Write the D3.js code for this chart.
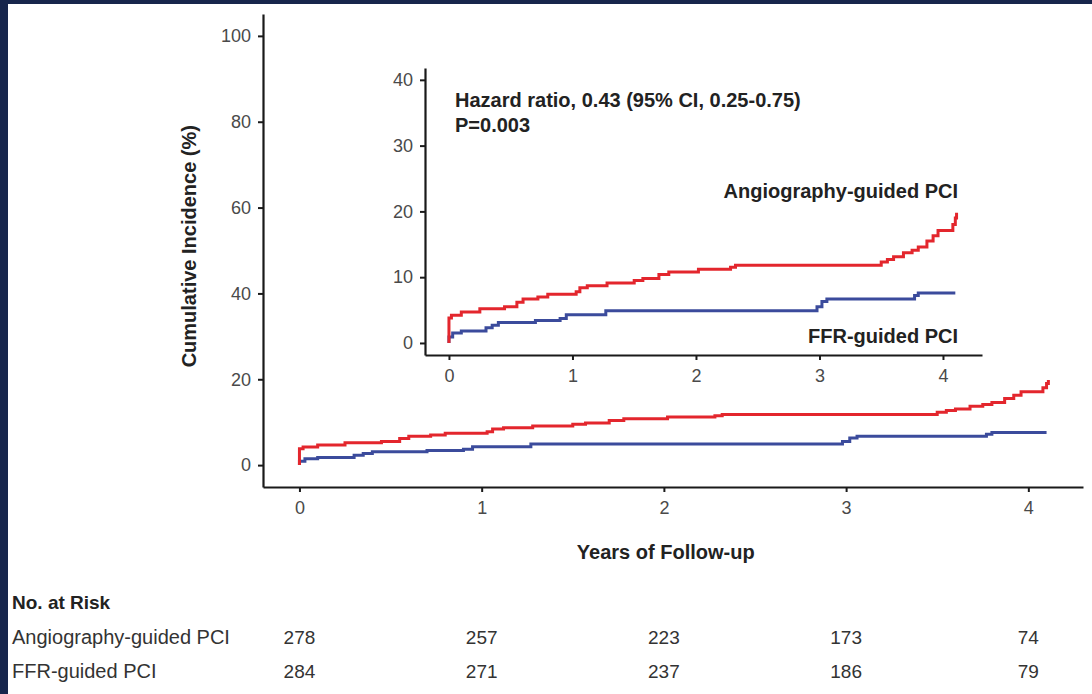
<!DOCTYPE html>
<html>
<head>
<meta charset="utf-8">
<script src="https://cdn.jsdelivr.net/npm/d3@7"></script>
<style>
  body { margin: 0; background: #17264c; }
  svg { display: block; }
  .tick text { font-family: "Liberation Sans", Arial, sans-serif; fill: #4a4a4a; }
</style>
</head>
<body>
<div id="chart"></div>
<script>
// Kaplan-Meier style step data: [years, cumulative incidence %]
const angioSteps = [
  [0, 0], [0, 3.8], [0.02, 4.2], [0.1, 4.7], [0.25, 5.2], [0.45, 5.5], [0.55, 6.2],
  [0.6, 6.7], [0.72, 7.0], [0.8, 7.4], [1.03, 7.8], [1.06, 8.4], [1.12, 8.7],
  [1.28, 9.1], [1.5, 9.5], [1.57, 9.8], [1.7, 10.4], [1.78, 10.8], [2.02, 11.2],
  [2.28, 11.5], [2.32, 11.8], [3.5, 12.3], [3.55, 12.7], [3.6, 13.1], [3.68, 13.7],
  [3.75, 14.1], [3.8, 14.6], [3.87, 15.5], [3.92, 16.3], [3.96, 17.1], [4.08, 18.0],
  [4.1, 19.0], [4.11, 19.8]
];
const ffrSteps = [
  [0, 0], [0, 0.9], [0.03, 1.5], [0.1, 1.8], [0.3, 2.3], [0.35, 2.7], [0.4, 3.1],
  [0.7, 3.4], [0.9, 3.7], [0.95, 4.3], [1.27, 4.9], [2.98, 5.5], [3.02, 6.3],
  [3.06, 6.7], [3.77, 7.2], [3.8, 7.6], [4.1, 7.6]
];

const yearTicks = [0, 1, 2, 3, 4];
const mainYTicks = [0, 20, 40, 60, 80, 100];
const insetYTicks = [0, 10, 20, 30, 40];

const riskGroups = ["Angiography-guided PCI", "FFR-guided PCI"];
const angioRisk = [278, 257, 223, 173, 74];
const ffrRisk = [284, 271, 237, 186, 79];

const hazardText = "Hazard ratio, 0.43 (95% CI, 0.25-0.75)";
const pText = "P=0.003";

const W = 1092, H = 694;
const red = "#e3262d", blue = "#3b4b9c";
const fontFam = '"Liberation Sans", Arial, sans-serif';

const svg = d3.select("#chart").append("svg")
    .attr("width", W)
    .attr("height", H);

// white panel over the navy frame
svg.append("rect")
    .attr("x", 8).attr("y", 4)
    .attr("width", W - 8).attr("height", H - 4)
    .attr("fill", "#ffffff");

// Draw one KM panel
function drawPanel(g, x, y, yTicks, fontSize) {
    const xAxis = g.append("g")
        .attr("transform", `translate(0,${y.range()[0]})`)
        .call(d3.axisBottom(x).tickValues(yearTicks).tickFormat(d3.format("d"))
            .tickSize(5).tickSizeOuter(0).tickPadding(9));
    const yAxis = g.append("g")
        .attr("transform", `translate(${x.range()[0]},0)`)
        .call(d3.axisLeft(y).tickValues(yTicks).tickFormat(d3.format("d"))
            .tickSize(5).tickSizeOuter(0).tickPadding(7));

    [xAxis, yAxis].forEach(a => {
        a.select(".domain").attr("stroke", "#1a1a1a").attr("stroke-width", 2.2);
        a.selectAll(".tick line").attr("stroke", "#1a1a1a").attr("stroke-width", 2);
        a.selectAll(".tick text").style("font-size", fontSize + "px");
    });

    const line = d3.line()
        .x(d => x(d[0]))
        .y(d => y(d[1]))
        .curve(d3.curveStepAfter);

    g.append("path").datum(ffrSteps)
        .attr("d", line)
        .attr("fill", "none")
        .attr("stroke", blue)
        .attr("stroke-width", 3);

    g.append("path").datum(angioSteps)
        .attr("d", line)
        .attr("fill", "none")
        .attr("stroke", red)
        .attr("stroke-width", 3);
}

// Main plot
const xMain = d3.scaleLinear().domain([-0.2, 4.3]).range([263, 1083]);
const yMain = d3.scaleLinear().domain([-5.1, 105.1]).range([487, 14]);
drawPanel(svg.append("g"), xMain, yMain, mainYTicks, 18);

// Inset plot
const xIn = d3.scaleLinear().domain([-0.194, 4.316]).range([425, 982]);
const yIn = d3.scaleLinear().domain([-1.83, 41.8]).range([355, 68]);
const inset = svg.append("g");
drawPanel(inset, xIn, yIn, insetYTicks, 18);

// Axis titles
svg.append("text")
    .attr("transform", `translate(196,${yMain(51)}) rotate(-90)`)
    .attr("text-anchor", "middle")
    .style("font-family", fontFam)
    .style("font-size", "20px")
    .style("font-weight", "bold")
    .attr("fill", "#222")
    .text("Cumulative Incidence (%)");

svg.append("text")
    .attr("x", xMain(2.01))
    .attr("y", 559)
    .attr("text-anchor", "middle")
    .style("font-family", fontFam)
    .style("font-size", "20px")
    .style("font-weight", "bold")
    .attr("fill", "#222")
    .text("Years of Follow-up");

// Inset annotations
const annot = [
    { t: hazardText, x: 455, y: 107, anchor: "start" },
    { t: pText, x: 455, y: 132, anchor: "start" },
    { t: riskGroups[0], x: 958, y: 198, anchor: "end" },
    { t: riskGroups[1], x: 958, y: 343, anchor: "end" }
];
svg.selectAll(".annot")
    .data(annot)
    .enter()
    .append("text")
    .attr("class", "annot")
    .attr("x", d => d.x)
    .attr("y", d => d.y)
    .attr("text-anchor", d => d.anchor)
    .style("font-family", fontFam)
    .style("font-size", "20px")
    .style("font-weight", "bold")
    .attr("fill", "#222")
    .text(d => d.t);

// Number at risk table
svg.append("text")
    .attr("x", 12).attr("y", 609)
    .style("font-family", fontFam)
    .style("font-size", "19px")
    .style("font-weight", "bold")
    .attr("fill", "#222")
    .text("No. at Risk");

const rows = [
    { name: riskGroups[0], vals: angioRisk, y: 644 },
    { name: riskGroups[1], vals: ffrRisk, y: 678 }
];
rows.forEach(r => {
    svg.append("text")
        .attr("x", 12).attr("y", r.y)
        .style("font-family", fontFam)
        .style("font-size", "20px")
        .attr("fill", "#333")
        .text(r.name);
    svg.selectAll(null)
        .data(r.vals)
        .enter()
        .append("text")
        .attr("x", (d, i) => xMain(yearTicks[i]))
        .attr("y", r.y)
        .attr("text-anchor", "middle")
        .style("font-family", fontFam)
        .style("font-size", "19px")
        .attr("fill", "#333")
        .text(d => d);
});
</script>
</body>
</html>
